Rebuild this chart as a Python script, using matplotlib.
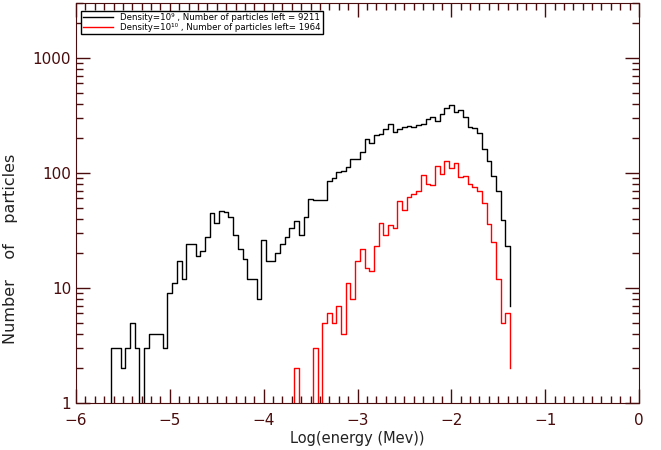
import numpy as np
import matplotlib
matplotlib.use("Agg")
import matplotlib.pyplot as plt
from matplotlib.ticker import MultipleLocator, LogLocator, NullFormatter, FixedLocator

# left edge of each 0.05-wide log(energy) bin, last entry is the closing point
log_energy = np.round(np.arange(-5.675, -1.35, 0.05), 3)

# counts per bin, density 1e9 (leading 0 = empty bin before the data starts)
counts_d9 = [0,
             3, 3, 2, 3, 5, 3, 0, 3, 4, 4,
             4, 3, 9, 11, 17, 12, 24, 24, 19, 21,
             28, 45, 37, 47, 46, 41, 29, 22, 18, 12,
             12, 8, 26, 17, 17, 20, 24, 28, 33, 38,
             29, 41, 59, 58, 58, 58, 85, 90, 101, 104,
             113, 132, 132, 151, 199, 181, 214, 220, 240, 265,
             227, 243, 250, 258, 253, 263, 265, 297, 309, 285,
             324, 365, 390, 339, 353, 309, 253, 245, 224, 163,
             128, 94, 69, 39, 23, 7]

# counts per bin, density 1e10
counts_d10 = [0,
              0, 0, 0, 0, 0, 0, 0, 0, 0, 0,
              0, 0, 0, 0, 0, 0, 0, 0, 0, 0,
              0, 0, 0, 0, 0, 0, 0, 0, 0, 0,
              0, 0, 0, 0, 0, 0, 0, 0, 0, 2,
              0, 0, 0, 3, 0, 5, 6, 5, 7, 4,
              11, 8, 17, 22, 15, 14, 23, 37, 29, 35,
              33, 57, 48, 62, 66, 70, 96, 80, 78, 115,
              97, 127, 110, 123, 92, 94, 80, 75, 69, 55,
              36, 25, 12, 5, 6, 2]

labels = ["Density=10\u2079 , Number of particles left = 9211",
          "Density=10\u00b9\u2070 , Number of particles left= 1964"]

axcol = "#4a0c0c"

fig = plt.figure(figsize=(6.61, 4.5), dpi=100)
ax = fig.add_axes([76 / 661, 47 / 450, 563 / 661, 400 / 450])

ax.step(log_energy, counts_d9, where="post", color="black", lw=1.0, label=labels[0])
ax.step(log_energy, counts_d10, where="post", color="red", lw=1.0, label=labels[1])

ax.set_yscale("log")
ax.set_xlim(-6, 0)
ax.set_ylim(1, 3000)

ax.xaxis.set_major_locator(MultipleLocator(1))
ax.xaxis.set_minor_locator(MultipleLocator(0.1))
ax.yaxis.set_major_locator(FixedLocator([1, 10, 100, 1000]))
ax.yaxis.set_major_formatter(plt.FuncFormatter(lambda v, p: "%d" % v))
ax.yaxis.set_minor_locator(LogLocator(base=10, subs=np.arange(2, 10)))
ax.yaxis.set_minor_formatter(NullFormatter())

ax.tick_params(which="both", direction="in", top=True, right=True,
               color=axcol, labelcolor=axcol, labelsize=11)
ax.tick_params(which="major", length=10, width=1)
ax.tick_params(which="minor", length=5, width=1)
ax.tick_params(axis="x", pad=7)
for s in ax.spines.values():
    s.set_color(axcol)

ax.set_xlabel("Log(energy (Mev))", fontsize=10.5, color="#222222", labelpad=2)
ax.set_ylabel("Number    of    particles", fontsize=11.5, color="#222222")
ax.yaxis.set_label_coords(-58 / 563, 0.385)

leg = ax.legend(loc="upper left", bbox_to_anchor=(5 / 563, 1 - 8 / 400),
                borderaxespad=0, fontsize=6.2, frameon=True, fancybox=False,
                edgecolor="black", framealpha=1, handlelength=3.5,
                handletextpad=0.8, borderpad=0.25, labelspacing=0.1)
leg.get_frame().set_linewidth(1.0)

fig.savefig("out.png", dpi=100)
